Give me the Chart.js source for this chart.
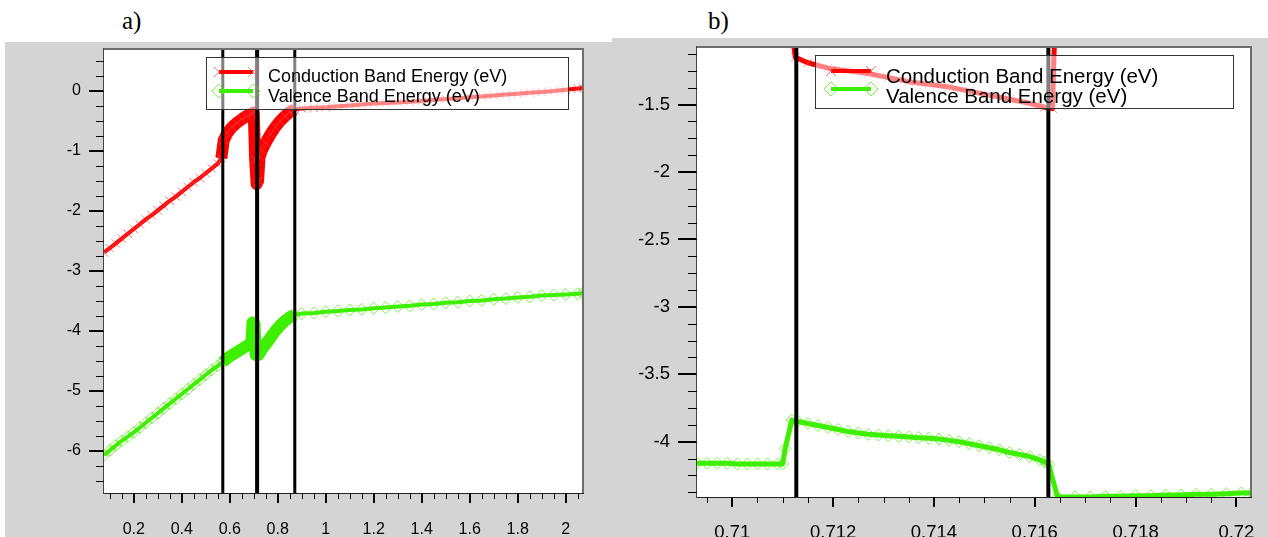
<!DOCTYPE html>
<html>
<head>
<meta charset="utf-8">
<script src="https://cdn.jsdelivr.net/npm/chart.js@4.4.1/dist/chart.umd.min.js"></script>
<style>
  body { margin: 0; background: #fff; width: 1268px; height: 537px; overflow: hidden; position: relative; }
  .panel { position: absolute; background: #d4d4d4; }
  #panelA { left: 5px; top: 42px; width: 607px; height: 495px; }
  #panelB { left: 612px; top: 38px; width: 656px; height: 499px; }
  .tag { position: absolute; font-family: "Liberation Serif", "Times New Roman", serif; font-size: 25px; color: #000; }
</style>
</head>
<body>
<div class="tag" style="left:122px; top:7px;">a)</div>
<div class="tag" style="left:708px; top:7px;">b)</div>
<div class="panel" id="panelA"><canvas id="chartA" width="607" height="495"></canvas></div>
<div class="panel" id="panelB"><canvas id="chartB" width="656" height="499"></canvas></div>
<script>
// ---- data, panel a (position in micron vs energy in eV)
const condAX = [0.076, 0.1, 0.125, 0.15, 0.175, 0.2, 0.225, 0.25, 0.275, 0.3, 0.325, 0.35, 0.375, 0.4, 0.425, 0.45, 0.475, 0.5, 0.525, 0.55, 0.565,
  0.575, 0.59, 0.61, 0.63, 0.65, 0.67, 0.69, 0.70, 0.706, 0.712, 0.718, 0.724,
  0.735, 0.75, 0.77, 0.79, 0.81, 0.83, 0.85, 0.87,
  0.9, 0.95, 1.0, 1.05, 1.1, 1.15, 1.2, 1.25, 1.3, 1.35, 1.4, 1.45, 1.5, 1.55, 1.6, 1.65, 1.7, 1.75, 1.8, 1.85, 1.9, 1.95, 2.0, 2.05, 2.07];
const condAY = [-2.69, -2.62, -2.54, -2.46, -2.38, -2.30, -2.22, -2.14, -2.07, -1.99, -1.91, -1.83, -1.76, -1.68, -1.60, -1.52, -1.45, -1.37, -1.29, -1.21, -1.12,
  -0.82, -0.70, -0.60, -0.53, -0.47, -0.42, -0.38, -0.36, -1.15, -1.55, -1.50, -1.10,
  -0.98, -0.86, -0.72, -0.60, -0.50, -0.42, -0.35, -0.31,
  -0.29, -0.28, -0.27, -0.255, -0.24, -0.225, -0.21, -0.20, -0.19, -0.18, -0.165, -0.15, -0.135, -0.12, -0.105, -0.09, -0.075, -0.06, -0.045, -0.03, -0.015, 0.0, 0.02, 0.04, 0.05];

const valAX = [0.076, 0.1, 0.125, 0.15, 0.175, 0.2, 0.225, 0.25, 0.275, 0.3, 0.325, 0.35, 0.375, 0.4, 0.425, 0.45, 0.475, 0.5, 0.525, 0.55, 0.57,
  0.59, 0.61, 0.63, 0.65, 0.67, 0.69, 0.695, 0.703, 0.708, 0.72,
  0.735, 0.75, 0.77, 0.79, 0.81, 0.83, 0.85, 0.87,
  0.9, 0.95, 1.0, 1.05, 1.1, 1.15, 1.2, 1.25, 1.3, 1.35, 1.4, 1.45, 1.5, 1.55, 1.6, 1.65, 1.7, 1.75, 1.8, 1.85, 1.9, 1.95, 2.0, 2.05, 2.07];
const valAY = [-6.07, -5.99, -5.91, -5.83, -5.76, -5.69, -5.61, -5.53, -5.45, -5.37, -5.29, -5.21, -5.13, -5.05, -4.97, -4.89, -4.81, -4.73, -4.65, -4.58, -4.52,
  -4.45, -4.40, -4.35, -4.30, -4.25, -4.20, -3.86, -3.88, -4.40, -4.40,
  -4.30, -4.22, -4.11, -4.00, -3.91, -3.83, -3.77, -3.73,
  -3.71, -3.70, -3.68, -3.665, -3.65, -3.64, -3.62, -3.61, -3.59, -3.58, -3.56, -3.55, -3.53, -3.52, -3.50, -3.49, -3.47, -3.46, -3.44, -3.43, -3.41, -3.40, -3.39, -3.38, -3.37];

const xTicksA = [0.2, 0.4, 0.6, 0.8, 1, 1.2, 1.4, 1.6, 1.8, 2];
const yTicksA = [0, -1, -2, -3, -4, -5, -6];
const junctionsA = [0.571, 0.714, 0.871];

// ---- data, panel b (zoom on the middle junction)
const condBX = [0.7093, 0.7100, 0.7105, 0.7110, 0.71125, 0.7115, 0.7119, 0.7123, 0.7127, 0.7131, 0.7135, 0.7139, 0.7143, 0.7147, 0.7151, 0.7155, 0.7159, 0.7162, 0.71635,
  0.71645, 0.7170, 0.7180, 0.7190, 0.7203];
const condBY = [-0.45, -0.45, -0.45, -0.45, -1.15, -1.19, -1.23, -1.25, -1.27, -1.30, -1.33, -1.35, -1.37, -1.40, -1.43, -1.46, -1.49, -1.52, -1.53,
  -0.30, -0.30, -0.30, -0.30, -0.30];

const valBX = [0.7093, 0.7095, 0.7097, 0.7099, 0.7101, 0.7103, 0.7105, 0.7107, 0.7109, 0.7110, 0.71105, 0.71118,
  0.7113, 0.7115, 0.7117, 0.7119, 0.7121, 0.7123, 0.7125, 0.7127, 0.7129, 0.7131, 0.7133, 0.7135, 0.7137, 0.7139,
  0.7141, 0.7143, 0.7145, 0.7147, 0.7149, 0.7151, 0.7153, 0.7155, 0.7157, 0.7159, 0.7161, 0.7162, 0.71628,
  0.71645, 0.7168, 0.7171, 0.7174, 0.7177, 0.7180, 0.7183, 0.7186, 0.7189, 0.7192, 0.7195, 0.7198, 0.7201, 0.7203];
const valBY = [-4.16, -4.16, -4.16, -4.16, -4.165, -4.165, -4.165, -4.165, -4.165, -4.165, -4.05, -3.84,
  -3.85, -3.865, -3.88, -3.895, -3.91, -3.925, -3.935, -3.945, -3.95, -3.955, -3.96, -3.965, -3.97, -3.975,
  -3.98, -3.99, -4.0, -4.015, -4.03, -4.045, -4.06, -4.08, -4.095, -4.11, -4.135, -4.15, -4.17,
  -4.41, -4.41, -4.41, -4.405, -4.405, -4.40, -4.40, -4.395, -4.395, -4.39, -4.39, -4.385, -4.38, -4.38];

const xTicksB = [0.71, 0.712, 0.714, 0.716, 0.718, 0.72];
const yTicksB = [-1.5, -2, -2.5, -3, -3.5, -4];
const junctionsB = [0.71127, 0.71627];

const seriesNames = ['Conduction Band Energy (eV)', 'Valence Band Energy (eV)'];

// ---- colours
const RED = '#ff0000';
const RED_MARK = 'rgba(255,60,60,0.7)';
const GREEN = '#3cf000';
const GREEN_MARK = 'rgba(70,235,0,0.7)';

function toPoints(xs, ys) {
  return xs.map((x, i) => ({ x: x, y: ys[i] }));
}

// white plot area, black junction lines, semi transparent legend, minor ticks
const overlayPlugin = {
  id: 'overlay',
  beforeDatasetsDraw(chart) {
    const a = chart.chartArea;
    chart.ctx.save();
    chart.ctx.fillStyle = '#fff';
    chart.ctx.fillRect(a.left, a.top, a.right - a.left, a.bottom - a.top);
    chart.ctx.restore();
  },
  afterDatasetsDraw(chart, args, opts) {
    const ctx = chart.ctx;
    const area = chart.chartArea;
    const xs = chart.scales.x;
    ctx.save();
    ctx.beginPath();
    ctx.rect(area.left, area.top, area.right - area.left, area.bottom - area.top);
    ctx.clip();
    ctx.strokeStyle = '#000';
    opts.lines.forEach((v, i) => {
      const px = xs.getPixelForValue(v);
      ctx.lineWidth = opts.lineWidths[i];
      ctx.beginPath();
      ctx.moveTo(px, area.top);
      ctx.lineTo(px, area.bottom);
      ctx.stroke();
    });
    ctx.restore();

    // legend
    const b = opts.box;
    ctx.save();
    ctx.fillStyle = 'rgba(255,255,255,0.5)';
    ctx.fillRect(b[0], b[1], b[2] - b[0], b[3] - b[1]);
    ctx.strokeStyle = '#333';
    ctx.lineWidth = 1;
    ctx.strokeRect(b[0] + 0.5, b[1] + 0.5, b[2] - b[0], b[3] - b[1]);
    chart.data.datasets.forEach((d, i) => {
      const y = opts.sampleY[i];
      ctx.strokeStyle = d.borderColor;
      ctx.lineWidth = 4;
      ctx.beginPath();
      ctx.moveTo(opts.sampleX[0], y);
      ctx.lineTo(opts.sampleX[1], y);
      ctx.stroke();
      ctx.fillStyle = 'rgba(0,0,0,0)';
      ctx.strokeStyle = d.pointBorderColor;
      ctx.lineWidth = 1;
      [opts.sampleX[0], opts.sampleX[1]].forEach(px => {
        Chart.helpers.drawPoint(ctx, { pointStyle: d.pointStyle, radius: d.pointRadius + 1, borderWidth: 1 }, px, y);
      });
      ctx.fillStyle = '#000';
      ctx.font = opts.font;
      ctx.textBaseline = 'middle';
      ctx.textAlign = 'left';
      ctx.fillText(d.label, opts.textX, opts.textY[i]);
    });
    ctx.restore();
  },
  afterDraw(chart, args, opts) {
    const ctx = chart.ctx;
    const area = chart.chartArea;
    ctx.save();
    ctx.strokeStyle = '#000';
    ctx.lineWidth = 1;
    ['x', 'y'].forEach(id => {
      const s = chart.scales[id];
      const step = opts.minor[id];
      const len = opts.minorLen[id];
      const n0 = Math.ceil(s.min / step - 1e-6);
      const n1 = Math.floor(s.max / step + 1e-6);
      for (let n = n0; n <= n1; n++) {
        const p = Math.round(s.getPixelForValue(n * step)) + 0.5;
        ctx.beginPath();
        if (id === 'x') {
          ctx.moveTo(p, area.bottom);
          ctx.lineTo(p, area.bottom + len);
        } else {
          ctx.moveTo(area.left - len, p);
          ctx.lineTo(area.left, p);
        }
        ctx.stroke();
      }
    });
    ctx.strokeStyle = '#6e6e6e';
    ctx.lineWidth = 2;
    ctx.beginPath();
    ctx.moveTo(area.left, area.top);
    ctx.lineTo(area.right, area.top);
    ctx.lineTo(area.right, area.bottom);
    ctx.stroke();
    ctx.restore();
  }
};

function makeChart(canvasId, p) {
  const fmt = v => String(+v.toFixed(4));
  const common = {
    pointBackgroundColor: 'rgba(0,0,0,0)',
    pointBorderWidth: 1,
    pointRadius: p.markR,
    borderWidth: p.lineWidth,
    borderJoinStyle: 'round',
    segment: { borderWidth: p.segWidth },
    tension: 0,
    clip: 0
  };
  return new Chart(document.getElementById(canvasId), {
    type: 'line',
    data: {
      datasets: [Object.assign({
        label: seriesNames[0],
        data: toPoints(p.condX, p.condY),
        borderColor: RED,
        pointStyle: 'crossRot',
        pointBorderColor: RED_MARK
      }, common), Object.assign({
        label: seriesNames[1],
        data: toPoints(p.valX, p.valY),
        borderColor: GREEN,
        pointStyle: 'rectRot',
        pointBorderColor: GREEN_MARK
      }, common)]
    },
    options: {
      responsive: false,
      animation: false,
      devicePixelRatio: 1,
      layout: { padding: { top: p.padTop, right: p.padRight, left: 0, bottom: 0 } },
      plugins: {
        legend: { display: false },
        tooltip: { enabled: false },
        overlay: {
          lines: p.lines, lineWidths: p.lineWidths, box: p.box,
          sampleX: p.sampleX, sampleY: p.sampleY, textX: p.textX, textY: p.textY, font: p.legendFont,
          minor: p.minor, minorLen: p.minorLen
        }
      },
      scales: {
        x: {
          type: 'linear', min: p.xMin, max: p.xMax,
          afterBuildTicks: s => { s.ticks = p.xTicks.map(v => ({ value: v })); },
          afterFit: s => { s.height = p.xAxisH; s.paddingLeft = 0; s.paddingRight = 0; },
          ticks: { callback: fmt, color: '#000', font: { family: 'Liberation Sans', size: p.tickFont }, padding: p.xPad, maxRotation: 0, autoSkip: false },
          grid: { drawOnChartArea: false, color: '#000', lineWidth: 2, tickLength: p.xTickLen },
          border: { color: '#222', width: 2 }
        },
        y: {
          type: 'linear', min: p.yMin, max: p.yMax,
          afterBuildTicks: s => { s.ticks = p.yTicks.map(v => ({ value: v })); },
          afterFit: s => { s.width = p.yAxisW; s.paddingTop = 0; s.paddingBottom = 0; },
          ticks: { callback: fmt, color: '#000', font: { family: 'Liberation Sans', size: p.tickFont }, padding: p.yPad, autoSkip: false },
          grid: { drawOnChartArea: false, color: '#000', lineWidth: 2, tickLength: p.yTickLen },
          border: { color: '#444', width: 2 }
        }
      }
    },
    plugins: [overlayPlugin]
  });
}

// panel a: the heterojunction region is drawn as a broad band
makeChart('chartA', {
  condX: condAX, condY: condAY, valX: valAX, valY: valAY,
  xTicks: xTicksA, yTicks: yTicksA, lines: junctionsA, lineWidths: [3, 4, 3],
  xMin: 0.076, xMax: 2.072, yMin: -6.7, yMax: 0.7,
  lineWidth: 4, markR: 6,
  segWidth: c => (c.p0.parsed.x >= 0.565 && c.p1.parsed.x <= 0.88) ? 12 : undefined,
  padTop: 7, padRight: 29, xAxisH: 44, yAxisW: 99,
  tickFont: 16, xPad: 17, yPad: 8, xTickLen: 10, yTickLen: 15,
  minor: { x: 0.05, y: 0.25 }, minorLen: { x: 6, y: 8 },
  box: [201, 15, 563, 67], sampleX: [214, 248], sampleY: [30, 49], textX: 263, textY: [35, 55], legendFont: '18px "Liberation Sans"'
});

// panel b
makeChart('chartB', {
  condX: condBX, condY: condBY, valX: valBX, valY: valBY,
  xTicks: xTicksB, yTicks: yTicksB, lines: junctionsB, lineWidths: [4, 4],
  xMin: 0.7093, xMax: 0.72029, yMin: -4.41, yMax: -1.073,
  lineWidth: 5, markR: 6,
  segWidth: c => undefined,
  padTop: 9, padRight: 17, xAxisH: 40, yAxisW: 85,
  tickFont: 18.5, xPad: 15, yPad: 8, xTickLen: 10, yTickLen: 19,
  minor: { x: 0.0005, y: 0.125 }, minorLen: { x: 6, y: 9 },
  box: [203, 17, 621, 70], sampleX: [219, 259], sampleY: [33, 51], textX: 274, textY: [39, 59], legendFont: '20.5px "Liberation Sans"'
});
</script>
</body>
</html>
